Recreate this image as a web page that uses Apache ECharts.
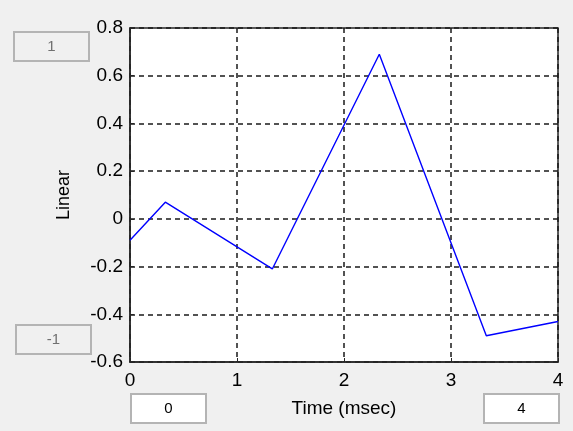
<!DOCTYPE html>
<html><head><meta charset="utf-8">
<script src="https://cdn.jsdelivr.net/npm/echarts@6/dist/echarts.min.js"></script>
<style>html,body{margin:0;padding:0;background:#f0f0f0;}#c{width:573px;height:431px;}</style>
</head><body><div id="c"></div>
<script>
const timeMs = [0, 0.33, 1.33, 2.33, 3.33, 4];
const linearVals = [-0.09, 0.07, -0.21, 0.69, -0.49, -0.43];
const yTicks = [-0.6, -0.4, -0.2, 0, 0.2, 0.4, 0.6, 0.8];
const xTicks = [0, 1, 2, 3, 4];
const boxLabels = {yMax: '1', yMin: '-1', xMin: '0', xMax: '4'};
const xTitle = 'Time (msec)';
const yTitle = 'Linear';

const FONT = 'Liberation Sans';
const chart = echarts.init(document.getElementById('c'), null, {renderer: 'canvas'});
function box(x, y, w, h, txt, fill, tcol) {
  return {
    type: 'rect', left: x, top: y,
    shape: {x: 0, y: 0, width: w, height: h},
    style: {fill: fill, stroke: '#b4b4b4', lineWidth: 2},
    textContent: {style: {text: txt, fill: tcol, font: '15px ' + FONT}},
    textConfig: {position: 'inside'}
  };
}
chart.setOption({
  backgroundColor: '#f0f0f0',
  animation: false,
  grid: {left: 130, right: 15, top: 28, bottom: 69, show: true, backgroundColor: '#ffffff', borderColor: '#262626', borderWidth: 1.5},
  xAxis: {
    type: 'value', min: xTicks[0], max: xTicks[xTicks.length - 1], interval: 1,
    axisLine: {show: true, onZero: false, lineStyle: {color: '#262626', width: 1.5}},
    axisTick: {show: true, inside: true, length: 4, lineStyle: {color: '#262626'}},
    axisLabel: {color: '#000', fontFamily: FONT, fontSize: 19, margin: 9},
    splitLine: {show: true, lineStyle: {color: '#1a1a1a', type: [5, 4], width: 1.5}},
    name: xTitle, nameLocation: 'middle', nameGap: 37,
    nameTextStyle: {color: '#000', fontFamily: FONT, fontSize: 19}
  },
  yAxis: {
    type: 'value', min: yTicks[0], max: yTicks[yTicks.length - 1], interval: 0.2,
    axisLine: {show: true, onZero: false, lineStyle: {color: '#262626', width: 1.5}},
    axisTick: {show: true, inside: true, length: 4, lineStyle: {color: '#262626'}},
    axisLabel: {color: '#000', fontFamily: FONT, fontSize: 19, margin: 7,
      formatter: v => String(Math.round(v * 10) / 10)},
    splitLine: {show: true, lineStyle: {color: '#1a1a1a', type: [5, 4], width: 1.5}},
    name: yTitle, nameLocation: 'middle', nameGap: 57, nameRotate: 90,
    nameTextStyle: {color: '#000', fontFamily: FONT, fontSize: 18}
  },
  series: [{
    type: 'line', data: timeMs.map((t, i) => [t, linearVals[i]]),
    showSymbol: false, symbol: 'none',
    lineStyle: {color: '#0000ff', width: 1.4}
  }],
  graphic: [
    box(13, 31, 75, 29, boxLabels.yMax, '#f0f0f0', '#707070'),
    box(15, 324, 75, 29, boxLabels.yMin, '#f0f0f0', '#707070'),
    box(130, 393, 75, 29, boxLabels.xMin, '#ffffff', '#000000'),
    box(483, 393, 75, 29, boxLabels.xMax, '#ffffff', '#000000')
  ]
});
</script></body></html>
